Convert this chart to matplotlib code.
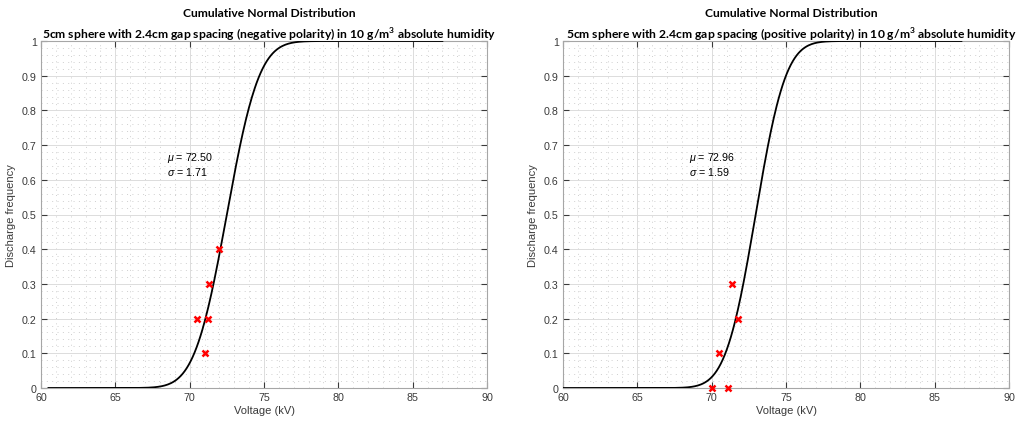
import math
import numpy as np
import matplotlib
matplotlib.use("Agg")
import matplotlib.pyplot as plt
from matplotlib.ticker import MultipleLocator

plt.rcParams['font.family'] = ['Liberation Sans', 'DejaVu Sans']
plt.rcParams['mathtext.fontset'] = 'custom'
plt.rcParams['mathtext.bf'] = 'Lato:bold'
plt.rcParams['mathtext.rm'] = 'Liberation Sans'
plt.rcParams['mathtext.it'] = 'Liberation Sans:italic'

# Measured breakdown data (voltage kV, discharge frequency)
neg_voltage = [72.0, 71.3, 70.5, 71.25, 71.05]
neg_freq = [0.4, 0.3, 0.2, 0.2, 0.1]
pos_voltage = [71.35, 71.8, 70.5, 70.0, 71.1]
pos_freq = [0.3, 0.2, 0.1, 0.0, 0.0]

# Fitted normal parameters
neg_mu, neg_sigma = 72.50, 1.71
pos_mu, pos_sigma = 72.96, 1.59

# Fitted curve span
neg_span = [60.5, 87.0]
pos_span = [60.0, 86.8]

titles = [
    "Cumulative Normal Distribution\n5cm sphere with 2.4cm gap spacing (negative polarity) in 10 g/m$^\\mathbf{3}$ absolute humidity",
    "Cumulative Normal Distribution\n5cm sphere with 2.4cm gap spacing (positive polarity) in 10 g/m$^\\mathbf{3}$ absolute humidity",
]

panels = [
    (neg_voltage, neg_freq, neg_mu, neg_sigma, neg_span),
    (pos_voltage, pos_freq, pos_mu, pos_sigma, pos_span),
]

fig = plt.figure(figsize=(10.17, 4.27), dpi=100)
lefts = [41 / 1017, 563 / 1017]
bottom = 38 / 427
width = 446 / 1017
height = 347 / 427

axis_gray = '#3a3a3a'
for i, (vx, fy, mu, sig, span) in enumerate(panels):
    ax = fig.add_axes([lefts[i], bottom, width, height])
    xs = np.linspace(span[0], span[1], 400)
    cdf = np.array([0.5 * (1 + math.erf((x - mu) / (sig * math.sqrt(2)))) for x in xs])
    ax.plot(xs, cdf, color='black', lw=1.3, zorder=3)
    ax.plot(vx, fy, linestyle='none', marker='x', color='#ff0000', ms=5, mew=1.8,
            zorder=4, clip_on=False)

    ax.set_xlim(60, 90)
    ax.set_ylim(0, 1)
    ax.xaxis.set_major_locator(MultipleLocator(5))
    ax.xaxis.set_minor_locator(MultipleLocator(1))
    ax.yaxis.set_major_locator(MultipleLocator(0.1))
    ax.yaxis.set_minor_locator(MultipleLocator(0.02))
    ax.set_yticks(np.arange(0, 1.01, 0.1))
    ax.set_yticklabels(['0'] + [f'{v:.1f}' for v in np.arange(0.1, 0.95, 0.1)] + ['1'])

    ax.grid(True, which='major', color='#dcdcdc', lw=0.7, zorder=0)
    ax.grid(True, which='minor', color='#cfcfcf', lw=0.7, linestyle=(0, (1, 4.5)), zorder=0)
    ax.set_axisbelow(True)

    for s in ax.spines.values():
        s.set_color('#a6a6a6')
        s.set_linewidth(0.8)
    ax.tick_params(which='major', direction='in', length=4, width=0.8, color=axis_gray,
                   labelsize=7.7, labelcolor=axis_gray, pad=3, top=True, right=True)
    ax.tick_params(which='minor', length=0)

    ax.set_xlabel('Voltage (kV)', fontsize=8, color=axis_gray, labelpad=2)
    ax.set_ylabel('Discharge frequency', fontsize=8, color=axis_gray, labelpad=4)
    ax.set_title(titles[i], fontsize=8.7, fontweight='bold', family=['Lato', 'DejaVu Sans'],
                 linespacing=1.6, pad=1.5, color='black', x=0.511)

    ax.text(68.5, 0.666, f'$\\mu$ = {mu:.2f}', fontsize=7.7, color='black', va='center')
    ax.text(68.5, 0.625, f'$\\sigma$ = {sig:.2f}', fontsize=7.7, color='black', va='center')

fig.savefig('out.png', dpi=100, facecolor='white')
